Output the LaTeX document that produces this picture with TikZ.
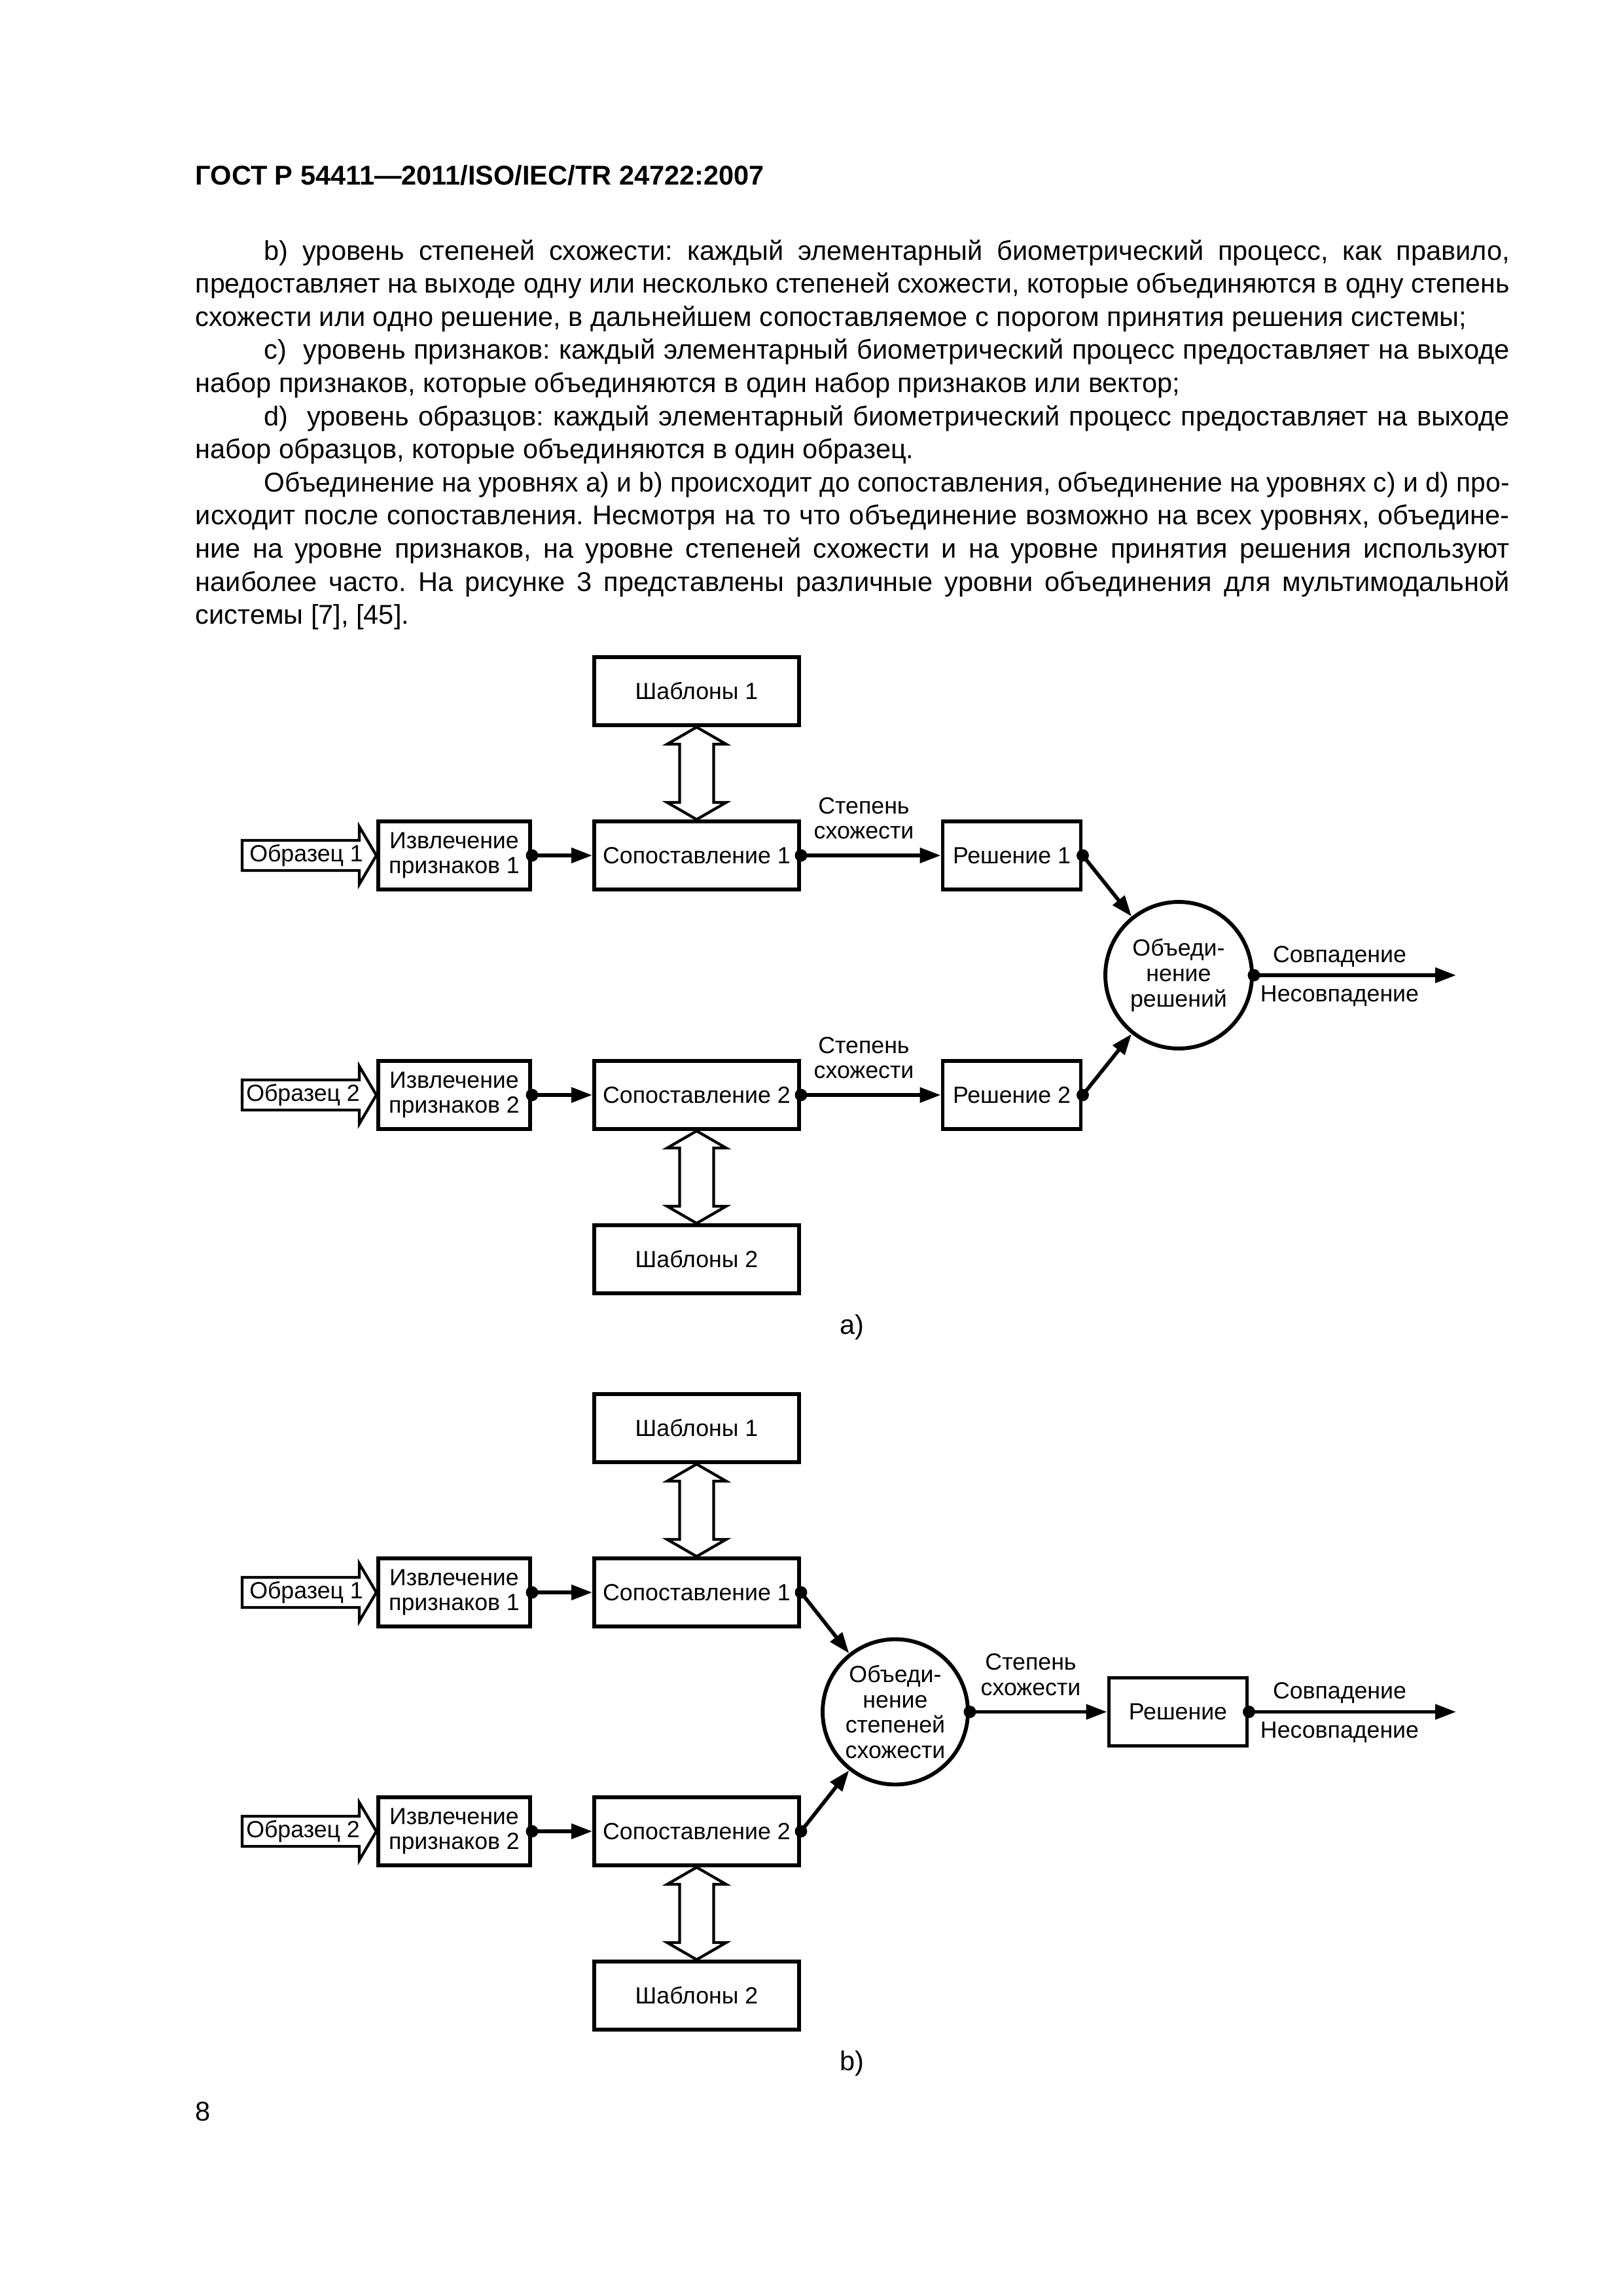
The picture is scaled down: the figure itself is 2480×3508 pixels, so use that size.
\documentclass[tikz,border=0pt]{standalone}
\usepackage{fontspec}
\setmainfont{Liberation Sans}
\usepackage{graphicx}
\usetikzlibrary{arrows.meta,calc}
\frenchspacing
\newcommand\pxu{0.084667mm}
\newcommand\figfont{\fontsize{8.6pt}{9.3pt}\selectfont}
\newsavebox\lbox
\newcommand\jline[2]{\sbox\lbox{#2}\ifdim\wd\lbox>#1\relax\resizebox{#1}{\height}{\usebox\lbox}\else\makebox[#1][s]{#2}\fi}
\newcommand\fulw{170.01mm}
\newcommand\indw{161.12mm}
\newcommand\dotat[1]{\fill (#1) circle[radius=0.8mm];}
\newcommand\dblarrow[2]{%
  \draw[hollow] (#1.south) -- ++(-45,26) -- ++(19,0) -- ($(#2.north)+(-26,-26)$) -- ++(-19,0) -- (#2.north)
    -- ++(45,-26) -- ++(-19,0) -- ($(#1.south)+(26,26)$) -- ++(19,0) -- cycle;}
\newcommand\srcarrow[4]{%
  \draw[hollow] (#1.west) -- ++(-26,-44) -- ++(0,21) -- ++(-179,0) -- ++(0,46) -- ++(179,0) -- ++(0,21) -- cycle;
  \node[lbl] (#2) at ($(#1.west)+(#4,0)$) {#3};}
\begin{document}
\begin{tikzpicture}[x=0.084667mm, y=-0.084667mm,
  box/.style={draw, line width=0.5mm, inner sep=0pt, align=center, font=\figfont},
  wbox/.style={box, minimum width=313*\pxu, minimum height=104*\pxu},
  ebox/.style={box, minimum width=232*\pxu, minimum height=104*\pxu},
  dbox/.style={box, minimum width=211*\pxu, minimum height=104*\pxu},
  fus/.style={draw, circle, line width=0.5mm, inner sep=0pt, align=center, font=\figfont},
  conn/.style={line width=0.48mm, -{Triangle[length=2.7mm,width=1.9mm]}},
  hollow/.style={draw, line width=0.36mm, line join=miter},
  lbl/.style={inner sep=0pt, font=\figfont, align=center},
  txt/.style={inner sep=0pt, anchor=base west},
  figcap/.style={inner sep=0pt, anchor=base}]
\useasboundingbox (0,0) rectangle (2480,3508);

% header
\node[txt, font=\bfseries] (hdr) at (298,282) {ГОСТ Р 54411—2011/ISO/IEC/TR 24722:2007};

% body text
\node[txt] (l1) at (403,397) {\jline{\indw}{b) уровень степеней схожести: каждый элементарный биометрический процесс, как правило,}};
\node[txt] (l2) at (298,447.6) {\jline{\fulw}{предоставляет на выходе одну или несколько степеней схожести, которые объединяются в одну степень}};
\node[txt] (l3) at (298,498.2) {схожести или одно решение, в дальнейшем сопоставляемое с порогом принятия решения системы;};
\node[txt] (l4) at (403,548.8) {\jline{\indw}{c)~~уровень признаков: каждый элементарный биометрический процесс предоставляет на выходе}};
\node[txt] (l5) at (298,599.4) {набор признаков, которые объединяются в один набор признаков или вектор;};
\node[txt] (l6) at (403,650) {\jline{\indw}{d)~~уровень образцов: каждый элементарный биометрический процесс предоставляет на выходе}};
\node[txt] (l7) at (298,700.6) {набор образцов, которые объединяются в один образец.};
\node[txt] (l8) at (403,751.2) {\jline{\indw}{Объединение на уровнях a) и b) происходит до сопоставления, объединение на уровнях c) и d) про-}};
\node[txt] (l9) at (298,801.8) {\jline{\fulw}{исходит после сопоставления. Несмотря на то что объединение возможно на всех уровнях, объедине-}};
\node[txt] (l10) at (298,852.4) {\jline{\fulw}{ние на уровне признаков, на уровне степеней схожести и на уровне принятия решения используют}};
\node[txt] (l11) at (298,903) {\jline{\fulw}{наиболее часто. На рисунке 3 представлены различные уровни объединения для мультимодальной}};
\node[txt] (l12) at (298,953.6) {системы [7], [45].};

% ---------------- diagram a)
\node[wbox] (tmpA1) at (1064.5,1056) {Шаблоны 1};
\node[ebox] (extA1) at (694,1307) {Извлечение\\признаков 1};
\node[wbox] (cmpA1) at (1064.5,1307) {Сопоставление 1};
\node[dbox] (decA1) at (1546,1307) {Решение 1};
\node[ebox] (extA2) at (694,1673) {Извлечение\\признаков 2};
\node[wbox] (cmpA2) at (1064.5,1673) {Сопоставление 2};
\node[dbox] (decA2) at (1546,1673) {Решение 2};
\node[wbox] (tmpA2) at (1064.5,1924) {Шаблоны 2};
\node[fus, minimum size=224*\pxu] (fusA) at (1801,1490) {Объеди-\\нение\\решений};
\coordinate (outA) at (2225,1490);

\srcarrow{extA1}{srcA1}{Образец 1}{-107}
\srcarrow{extA2}{srcA2}{Образец 2}{-112}
\dblarrow{tmpA1}{cmpA1}
\dblarrow{cmpA2}{tmpA2}

\draw[conn] (extA1.east) -- (cmpA1.west);
\draw[conn] (cmpA1.east) -- (decA1.west);
\draw[conn] (decA1.east) -- (fusA);
\draw[conn] (extA2.east) -- (cmpA2.west);
\draw[conn] (cmpA2.east) -- (decA2.west);
\draw[conn] (decA2.east) -- (fusA);
\draw[conn] (fusA.east) -- (outA);
\dotat{extA1.east}\dotat{cmpA1.east}\dotat{decA1.east}
\dotat{extA2.east}\dotat{cmpA2.east}\dotat{decA2.east}
\dotat{fusA.east}

\node[lbl, anchor=south] (simA1) at (1320,1283) {Степень\\схожести};
\node[lbl, anchor=south] (simA2) at (1320,1649) {Степень\\схожести};
\node[lbl, anchor=base] (matchA) at (2047,1470) {Совпадение};
\node[lbl, anchor=base] (nomatchA) at (2047,1530) {Несовпадение};
\node[figcap] (capA) at (1302,2038) {a)};

% ---------------- diagram b)
\node[wbox] (tmpB1) at (1064.5,2182) {Шаблоны 1};
\node[ebox] (extB1) at (694,2433) {Извлечение\\признаков 1};
\node[wbox] (cmpB1) at (1064.5,2433) {Сопоставление 1};
\node[ebox] (extB2) at (694,2798) {Извлечение\\признаков 2};
\node[wbox] (cmpB2) at (1064.5,2798) {Сопоставление 2};
\node[wbox] (tmpB2) at (1064.5,3049) {Шаблоны 2};
\node[fus, minimum size=222*\pxu] (fusB) at (1368,2615.5) {Объеди-\\нение\\степеней\\схожести};
\node[dbox] (decB) at (1800,2615.5) {Решение};
\coordinate (outB) at (2225,2615.5);

\srcarrow{extB1}{srcB1}{Образец 1}{-107}
\srcarrow{extB2}{srcB2}{Образец 2}{-112}
\dblarrow{tmpB1}{cmpB1}
\dblarrow{cmpB2}{tmpB2}

\draw[conn] (extB1.east) -- (cmpB1.west);
\draw[conn] (cmpB1.east) -- (fusB);
\draw[conn] (extB2.east) -- (cmpB2.west);
\draw[conn] (cmpB2.east) -- (fusB);
\draw[conn] (fusB.east) -- (decB.west);
\draw[conn] (decB.east) -- (outB);
\dotat{extB1.east}\dotat{cmpB1.east}\dotat{extB2.east}\dotat{cmpB2.east}
\dotat{fusB.east}\dotat{decB.east}

\node[lbl, anchor=south] (simB) at (1575,2591.5) {Степень\\схожести};
\node[lbl, anchor=base] (matchB) at (2047,2595.5) {Совпадение};
\node[lbl, anchor=base] (nomatchB) at (2047,2655.5) {Несовпадение};
\node[figcap] (capB) at (1302,3163) {b)};

\node[txt] (pgnum) at (298,3240) {8};
\end{tikzpicture}
\end{document}
